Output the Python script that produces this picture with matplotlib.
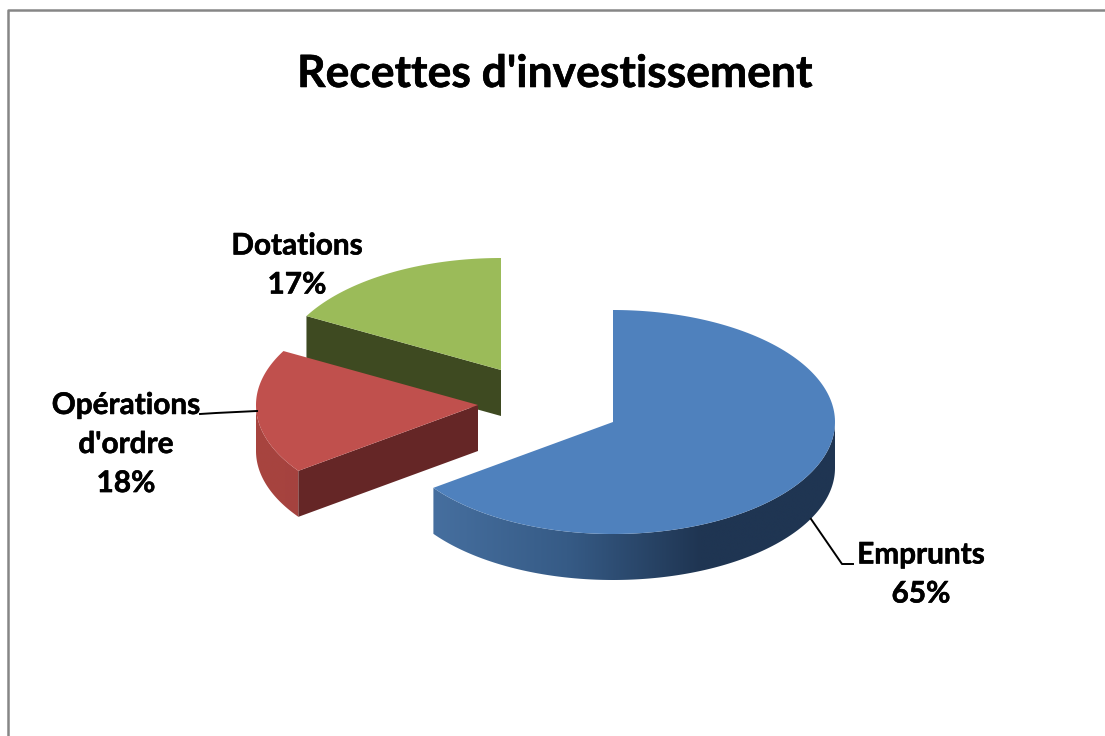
import numpy as np
import matplotlib
matplotlib.use('Agg')
import matplotlib.pyplot as plt
import matplotlib.patheffects as pe
from matplotlib.colors import LinearSegmentedColormap
from matplotlib.patches import Polygon

# Chart data
categories = ['Emprunts', "Opérations\nd'ordre", 'Dotations']
shares = [65, 18, 17]

# Pie layout, in pixels of the picture
centers = [(613, 422), (478, 405), (501, 370)]
rx, ry, depth = 222, 112, 46

top_colors = ['#4f81bd', '#c0504d', '#9bbb59']
cut_colors = ['#1f3552', '#652626', '#3e4a21']

plt.rcParams['font.family'] = ['Lato', 'DejaVu Sans']

fig = plt.figure(figsize=(11.05, 7.36), dpi=100)
ax = fig.add_axes([0, 0, 1, 1])
ax.set_xlim(0, 1105)
ax.set_ylim(736, 0)
ax.axis('off')


# t runs clockwise from 12 o'clock, in degrees
def rim(center, t):
    t = np.radians(t)
    return center[0] + rx * np.sin(t), center[1] - ry * np.cos(t)


def draw_side(center, t0, t1, colors, zorder):
    # outer wall: a horizontal gradient clipped to the wall outline
    ts = np.linspace(t0, t1, 200)
    x, y = rim(center, ts)
    pts = list(zip(x, y)) + list(zip(x[::-1], y[::-1] + depth))
    wall = Polygon(pts, closed=True, facecolor='none', edgecolor='none', transform=ax.transData)
    ax.add_patch(wall)
    cmap = LinearSegmentedColormap.from_list('wall', colors)
    grad = np.linspace(0, 1, 256).reshape(1, -1)
    im = ax.imshow(grad, cmap=cmap, extent=[x.min(), x.max(), y.max() + depth, y.min()],
                   aspect='auto', zorder=zorder, interpolation='bilinear')
    im.set_clip_path(wall)


def draw_cut(center, t, color, zorder):
    x, y = rim(center, t)
    ax.add_patch(Polygon([center, (x, y), (x, y + depth), (center[0], center[1] + depth)],
                         closed=True, facecolor=color, edgecolor='none', zorder=zorder))


def draw_top(center, t0, t1, color, zorder):
    ts = np.linspace(t0, t1, 200)
    x, y = rim(center, ts)
    pts = [center] + list(zip(x, y))
    ax.add_patch(Polygon(pts, closed=True, facecolor=color, edgecolor='none', zorder=zorder))


# Angles from the shares
edges = np.cumsum([0] + shares) / sum(shares) * 360

# Dotations (back), Opérations d'ordre, then Emprunts in front
t0, t1 = edges[2], edges[3]
draw_cut(centers[2], t0, cut_colors[2], 1)
draw_top(centers[2], t0, t1, top_colors[2], 2)

t0, t1 = edges[1], edges[2]
draw_side(centers[1], t0, 270, ['#a8453f', '#a5423f'], 3)
draw_cut(centers[1], t0, cut_colors[1], 4)
draw_top(centers[1], t0, t1, top_colors[1], 5)

t0, t1 = edges[0], edges[1]
draw_side(centers[0], 90, t1, ['#466f9f', '#365b86', '#1f3552', '#1f3552'], 6)
draw_top(centers[0], t0, t1, top_colors[0], 7)

ax.set_xlim(0, 1105)
ax.set_ylim(736, 0)

# Chart frame
ax.plot([7.5, 7.5, 1105], [736, 10, 10], color='#868686', linewidth=1.8, zorder=0)

# Leader lines
ax.plot([200, 216, 257], [414, 413, 411], color='black', linewidth=1.4, zorder=8)
ax.plot([811, 842, 853], [519, 564, 564], color='black', linewidth=1.4, zorder=8)

# thin stroke: Lato Bold is a little lighter than the original face
heavy = [pe.withStroke(linewidth=0.4, foreground='black')]

ax.text(555, 74, "Recettes d'investissement", fontsize=32, fontweight='bold',
        ha='center', va='center', color='black', path_effects=heavy)

# Labels
label_pos = [(921, 574), (126, 444), (297, 265)]
for cat, share, (x, y) in zip(categories, shares, label_pos):
    ax.text(x, y, f'{cat}\n{share}%', fontsize=21.4, fontweight='bold', ha='center',
            va='center', linespacing=1.48, color='black', zorder=9, path_effects=heavy)

fig.savefig('out.png', dpi=100)
